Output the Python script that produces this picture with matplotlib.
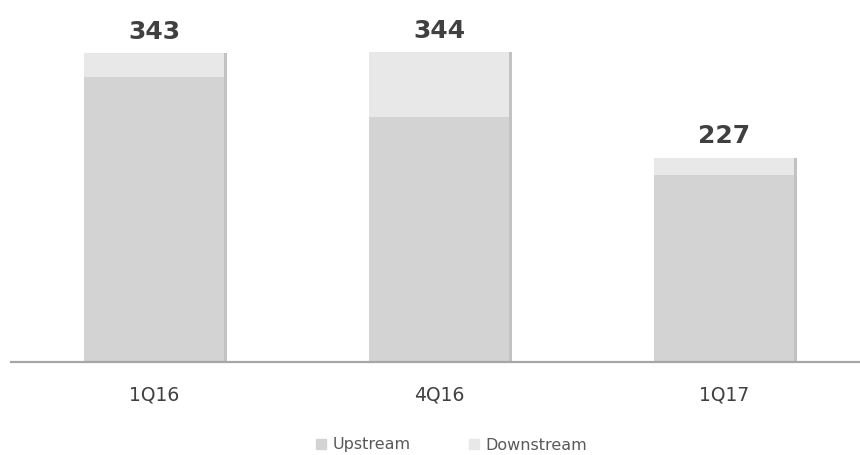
import matplotlib.pyplot as plt
import matplotlib.patheffects as pe
from matplotlib.lines import Line2D

# ── data ──────────────────────────────────────────────────────────────────────
quarters = ['1Q16', '4Q16', '1Q17']
upstream = [316, 272, 208]
downstream = [27, 72, 19]
totals = [u + d for u, d in zip(upstream, downstream)]

up_color = '#d3d3d3'
down_color = '#e8e8e8'
text_color = '#404040'

# ── figure ────────────────────────────────────────────────────────────────────
fig = plt.figure(figsize=(8.6, 4.55), dpi=100)
ax = fig.add_axes([11 / 860, 1 - 362 / 455, 849 / 860, 362 / 455])

x = range(len(quarters))
# soft shadow on the right edge of each stacked column
shadow = [pe.SimplePatchShadow(offset=(2.5, 0), shadow_rgbFace='#9a9a9a', alpha=0.6), pe.Normal()]
b1 = ax.bar(x, upstream, width=0.49, color=up_color, zorder=2)
b2 = ax.bar(x, downstream, bottom=upstream, width=0.49, color=down_color, zorder=2)
for r in list(b1) + list(b2):
    r.set_path_effects(shadow)

for xi, t in zip(x, totals):
    ax.text(xi, t + 24, f'{t}', ha='center', va='center', fontsize=18,
            fontweight='bold', color=text_color)

ax.set_xlim(-0.502, 2.477)
ax.set_ylim(0, 402)
ax.set_xticks(list(x))
ax.set_xticklabels(quarters, fontsize=13.5, color=text_color)
ax.tick_params(axis='x', length=0, pad=17)
ax.set_yticks([])
for side in ['top', 'right', 'left']:
    ax.spines[side].set_visible(False)
ax.spines['bottom'].set_color('#a6a6a6')
ax.spines['bottom'].set_linewidth(1.6)
ax.spines['bottom'].set_zorder(3)

handles = [Line2D([], [], marker='s', linestyle='none', markersize=6.5, color=up_color),
           Line2D([], [], marker='s', linestyle='none', markersize=6.5, color=down_color)]
fig.legend(handles, ['Upstream', 'Downstream'], loc='center', ncol=2,
           bbox_to_anchor=(451 / 860, 1 - 445 / 455), frameon=False,
           fontsize=11.5, labelcolor='#595959', handlelength=0.8,
           handletextpad=0.3, columnspacing=3.6)

fig.savefig('out.png', dpi=100)
